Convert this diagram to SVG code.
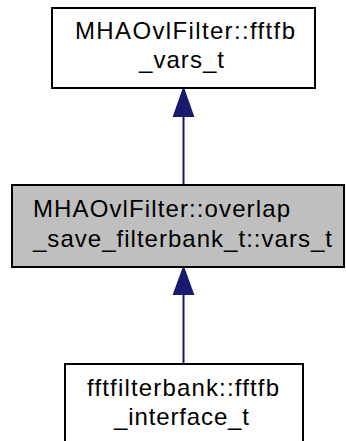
<svg xmlns="http://www.w3.org/2000/svg" width="346" height="441" viewBox="0 0 346 441">
<style>
.box{fill:#ffffff;stroke:#000000;stroke-width:2}
.cur{fill:#bfbfbf;stroke:#000000;stroke-width:2}
.t{font-family:"Liberation Sans",Arial,sans-serif;font-size:24px;fill:#000000}
.edge{stroke:#191970;stroke-width:2;fill:none}
.head{fill:#191970;stroke:#191970;stroke-width:2}
</style>
<rect width="346" height="441" fill="#ffffff"/>
<g id="connectors">
<line class="edge" x1="183.5" y1="116" x2="183.5" y2="185"/>
<polygon class="head" points="183.5,89 174,116 193,116"/>
<line class="edge" x1="183.5" y1="294" x2="183.5" y2="364"/>
<polygon class="head" points="183.5,268 174,294 193,294"/>
</g>
<g id="node-fftfb_vars_t">
<rect class="box" x="52" y="8" width="263" height="80"/>
<text class="t" x="75" y="39" textLength="220" lengthAdjust="spacing">MHAOvlFilter::fftfb</text>
<text class="t" x="139" y="68" textLength="85" lengthAdjust="spacing">_vars_t</text>
</g>
<g id="node-overlap_save_vars_t">
<rect class="cur" x="12" y="185" width="332" height="82"/>
<text class="t" x="33" y="217" textLength="257" lengthAdjust="spacing">MHAOvlFilter::overlap</text>
<text class="t" x="33" y="247" textLength="299" lengthAdjust="spacing">_save_filterbank_t::vars_t</text>
</g>
<g id="node-fftfb_interface_t">
<rect class="box" x="65" y="364" width="238" height="84"/>
<text class="t" x="87" y="396" textLength="192" lengthAdjust="spacing">fftfilterbank::fftfb</text>
<text class="t" x="114" y="425" textLength="135" lengthAdjust="spacing">_interface_t</text>
</g>
</svg>
